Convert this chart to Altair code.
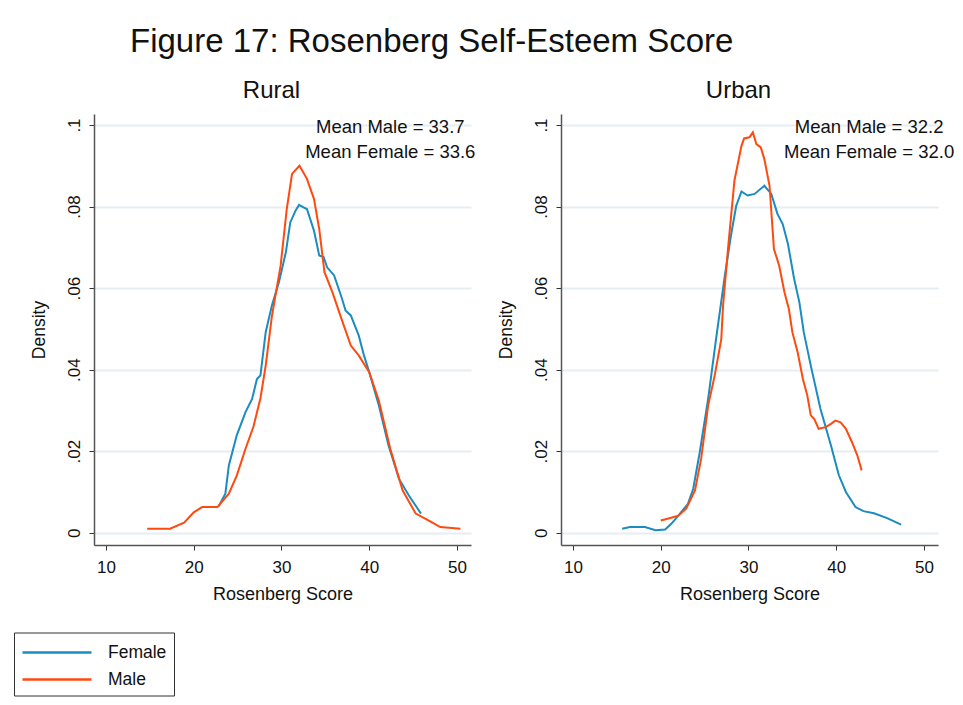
import altair as alt
import pandas as pd

# ---------------- data ----------------
rural_female_x = [22.85, 23.6, 24.0, 24.9, 25.9, 26.65, 27.2, 27.6, 28.2, 28.9, 29.7, 30.5, 31.0, 31.6, 32.0, 32.5,
                  32.9, 33.7, 34.3, 34.8, 35.2, 36.0, 36.9, 37.3, 37.9, 38.8, 39.4, 40.0, 41.1, 42.2, 43.4, 44.5, 45.9]
rural_female_y = [0.0065, 0.0096, 0.0165, 0.0239, 0.0296, 0.0328, 0.0377, 0.0386, 0.0492, 0.0557, 0.0614, 0.0688,
                  0.0761, 0.0790, 0.0804, 0.0798, 0.0794, 0.0741, 0.0680, 0.0676, 0.0651, 0.0631, 0.0574, 0.0545,
                  0.0533, 0.0484, 0.0435, 0.0394, 0.0312, 0.0214, 0.0132, 0.0092, 0.0047]

rural_male_x = [14.7, 17.3, 18.9, 20.0, 20.95, 22.7, 24.0, 24.9, 25.9, 26.8, 27.6, 28.2, 28.9, 29.9, 30.6, 31.2,
                32.05, 32.9, 33.7, 34.3, 34.9, 35.8, 36.7, 37.9, 38.8, 40.0, 41.1, 42.4, 43.8, 45.3, 46.8, 48.1, 50.4]
rural_male_y = [0.0010, 0.0010, 0.0025, 0.0050, 0.0063, 0.0063, 0.0096, 0.0140, 0.0206, 0.0260, 0.0330, 0.0410,
                0.0530, 0.0655, 0.0794, 0.0880, 0.0900, 0.0868, 0.0819, 0.0745, 0.0639, 0.0590, 0.0533, 0.0459,
                0.0435, 0.0394, 0.0324, 0.0206, 0.0104, 0.0047, 0.0030, 0.0014, 0.0010]

urban_female_x = [15.6, 16.5, 18.2, 19.4, 20.5, 21.2, 22.0, 23.1, 23.7, 24.45, 25.4, 26.3, 27.3, 28.0, 28.6, 29.2,
                  29.9, 30.7, 31.8, 32.6, 33.3, 33.9, 34.5, 35.2, 35.8, 36.3, 37.1, 38.2, 39.4, 40.3, 41.1, 42.2,
                  43.1, 44.3, 45.8, 47.4]
urban_female_y = [0.0010, 0.0014, 0.0014, 0.0006, 0.0008, 0.0022, 0.0042, 0.0071, 0.0108, 0.0198, 0.0328, 0.0475,
                  0.0630, 0.0729, 0.0802, 0.0837, 0.0827, 0.0831, 0.0851, 0.0831, 0.0782, 0.0757, 0.0708, 0.0623,
                  0.0565, 0.0492, 0.0410, 0.0304, 0.0214, 0.0141, 0.0100, 0.0063, 0.0053, 0.0048, 0.0036, 0.0020]

urban_male_x = [20.0, 21.2, 22.0, 22.9, 23.9, 24.6, 25.4, 26.15, 26.9, 27.1, 27.7, 28.4, 29.2, 29.5, 30.1, 30.5,
                30.9, 31.4, 31.8, 32.4, 32.9, 33.5, 34.1, 34.6, 35.0, 35.6, 36.2, 36.7, 37.1, 37.5, 38.0, 38.8,
                39.4, 39.9, 40.5, 41.1, 41.8, 42.4, 42.9]
urban_male_y = [0.0030, 0.0037, 0.0042, 0.0059, 0.0104, 0.0181, 0.0312, 0.0386, 0.0475, 0.0557, 0.0704, 0.0864,
                0.0949, 0.0967, 0.0970, 0.0982, 0.0953, 0.0945, 0.0917, 0.0851, 0.0696, 0.0655, 0.0590, 0.0549,
                0.0492, 0.0443, 0.0377, 0.0337, 0.0288, 0.0279, 0.0255, 0.0259, 0.0267, 0.0275, 0.0271, 0.0255,
                0.0222, 0.0190, 0.0153]

panels = ["Rural", "Urban"]
mean_male = ["33.7", "32.2"]
mean_female = ["33.6", "32.0"]
groups = ["Female", "Male"]
colors = ["#1a8cbf", "#ff4a0f"]
x_ticks = [10, 20, 30, 40, 50]
y_ticks = [0, 0.02, 0.04, 0.06, 0.08, 0.1]

FONT = "Liberation Sans"
INK = "#111111"


def frame(panel, group, xs, ys):
    return pd.DataFrame({"panel": panel, "group": group, "score": xs, "density": ys, "order": range(len(xs))})


curves = {
    "Rural": pd.concat([frame("Rural", "Female", rural_female_x, rural_female_y),
                        frame("Rural", "Male", rural_male_x, rural_male_y)]),
    "Urban": pd.concat([frame("Urban", "Female", urban_female_x, urban_female_y),
                        frame("Urban", "Male", urban_male_x, urban_male_y)]),
}

x_scale = alt.Scale(domain=[8.63, 51.6], nice=False, zero=False)
y_scale = alt.Scale(domain=[-0.003, 0.1027], nice=False, zero=False)
color_scale = alt.Scale(domain=groups, range=colors)

text_pos = {"Rural": 42.4, "Urban": 43.75}


def panel_chart(i, name):
    df = curves[name]
    lines = alt.Chart(df).mark_line(strokeWidth=2, interpolate="linear").encode(
        x=alt.X("score:Q", scale=x_scale,
                axis=alt.Axis(values=x_ticks, title="Rosenberg Score", grid=False, format="d",
                              labelFontSize=17, titleFontSize=18, titleFontWeight="normal",
                              labelPadding=9, tickSize=5, titleY=54, titleBaseline="alphabetic",
                              domainColor="#555", tickColor="#333", domainWidth=1.5,
                              labelColor=INK, titleColor=INK, labelFont=FONT, titleFont=FONT)),
        y=alt.Y("density:Q", scale=y_scale,
                axis=alt.Axis(values=y_ticks, title="Density", grid=True, gridColor="#e6eef2", gridWidth=2,
                              labelExpr="datum.value == 0 ? '0' : substring(format(datum.value, '.2~f'), 1)",
                              labelAngle=270, labelAlign="center", labelBaseline="bottom",
                              labelFontSize=17, titleFontSize=17.5, titleFontWeight="normal",
                              labelPadding=6, tickSize=5, titleX=-54.5, titleY=215.5, titleBaseline="middle",
                              domainColor="#555", tickColor="#333", domainWidth=1.5,
                              labelColor=INK, titleColor=INK, labelFont=FONT, titleFont=FONT)),
        color=alt.Color("group:N", scale=color_scale,
                        legend=alt.Legend(title=None, orient="none", legendX=-80, legendY=518.5,
                                          direction="vertical", symbolType="M-1,0H5", symbolSize=529,
                                          symbolStrokeWidth=2.5, labelFontSize=17.5, labelFont=FONT,
                                          labelColor=INK, strokeColor="#333", padding=7,
                                          rowPadding=5, labelOffset=61, fillColor="white")),
        order="order:Q",
        detail="group:N",
    )
    ann = pd.DataFrame({
        "score": [text_pos[name], text_pos[name]],
        "density": [0.0995, 0.0934],
        "label": [f"Mean Male = {mean_male[i]}", f"Mean Female = {mean_female[i]}"],
    })
    texts = alt.Chart(ann).mark_text(fontSize=18.5, font=FONT, color=INK, align="center",
                                     baseline="middle").encode(
        x=alt.X("score:Q", scale=x_scale), y=alt.Y("density:Q", scale=y_scale), text="label:N")
    return alt.layer(lines, texts).properties(
        width=377, height=431,
        title=alt.TitleParams(name, fontSize=24, font=FONT, fontWeight="normal", color=INK,
                              anchor="middle", frame="group", offset=11, dx=-11))


chart = alt.hconcat(panel_chart(0, "Rural"), panel_chart(1, "Urban"), spacing=90, bounds="flush").properties(
    title=alt.TitleParams("Figure 17: Rosenberg Self-Esteem Score", fontSize=33, font=FONT,
                          fontWeight="normal", color=INK, anchor="start", frame="group", dx=36, offset=20),
    padding={"left": 13, "top": 26, "right": 6, "bottom": 6},
    background="white",
).configure_view(stroke=None)

chart.save("out.html", embed_options={"renderer": "svg", "actions": False})
